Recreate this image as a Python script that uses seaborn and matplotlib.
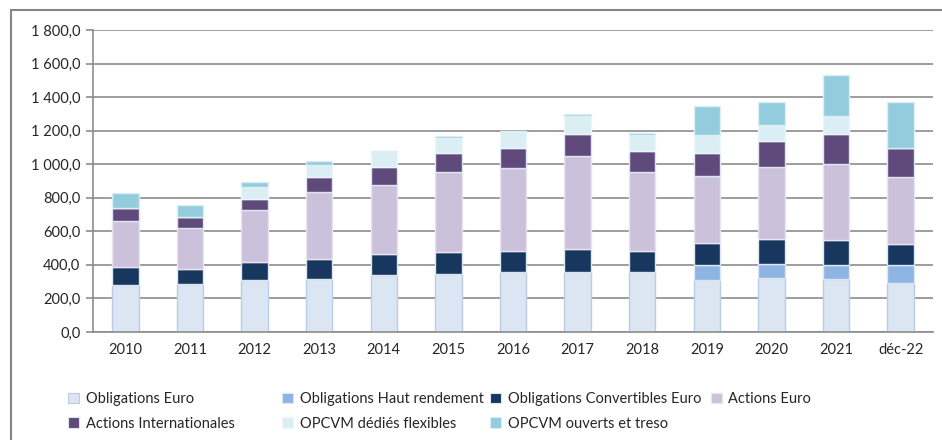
import numpy as np
import pandas as pd
import seaborn as sns
import matplotlib.pyplot as plt
from matplotlib.patches import Rectangle, Patch
from matplotlib.ticker import FuncFormatter, FixedLocator

years = ['2010', '2011', '2012', '2013', '2014', '2015', '2016',
         '2017', '2018', '2019', '2020', '2021', 'déc-22']

oblig_euro = [280, 286, 310, 314, 342, 346, 356, 356, 356, 310, 320, 314, 292]
oblig_hy = [0, 0, 0, 0, 0, 0, 0, 0, 0, 87, 85, 87, 105]
oblig_conv = [109, 91, 109, 123, 123, 133, 127, 137, 127, 133, 147, 145, 127]
actions_euro = [274, 241, 308, 396, 409, 473, 493, 556, 469, 400, 433, 457, 402]
actions_intl = [74, 66, 68, 93, 108, 115, 119, 129, 125, 137, 151, 179, 172]
opcvm_dedies = [0, 0, 71, 71, 89, 91, 95, 109, 99, 109, 100, 105, 0]
opcvm_ouverts = [93, 73, 28, 22, 8, 10, 8, 10, 10, 169, 133, 243, 271]

series = [
    ("Obligations Euro", oblig_euro, "#DCE6F2", "#B9CDE5"),
    ("Obligations Haut rendement", oblig_hy, "#8EB4E3", "#DCE6F2"),
    ("Obligations Convertibles Euro", oblig_conv, "#17375E", "#DCE6F2"),
    ("Actions Euro", actions_euro, "#CCC1DA", "#EAE4F0"),
    ("Actions Internationales", actions_intl, "#604A7B", "#DCE6F2"),
    ("OPCVM dédiés flexibles", opcvm_dedies, "#DBEEF4", "#EDF7FA"),
    ("OPCVM ouverts et treso", opcvm_ouverts, "#93CDDD", "#DBEEF4"),
]

sns.set_theme(style="white")
plt.rcParams['font.family'] = ['Lato', 'DejaVu Sans']
text_col = "#262626"
grid_col = "#8C8C8C"
fs = 10.5

fig = plt.figure(figsize=(9.42, 4.4), dpi=100)
ax = fig.add_axes([93 / 942, 1 - 332 / 440, (933 - 93) / 942, (332 - 30) / 440])

bottom = np.zeros(len(years))
handles = []
for name, vals, color, edge in series:
    df = pd.DataFrame({"annee": years, "valeur": vals})
    sns.barplot(data=df, x="annee", y="valeur", order=years, bottom=bottom.copy(),
                color=color, edgecolor=edge, linewidth=1.0, width=0.41,
                saturation=1, ax=ax, errorbar=None)
    bottom += np.array(vals, dtype=float)
    handles.append(Patch(facecolor=color, edgecolor=edge, linewidth=0.8, label=name))

ax.set_xlim(-0.5, len(years) - 0.5)
ax.set_ylim(0, 1800)
ax.set_yticks(np.arange(0, 1801, 200))
ax.yaxis.set_major_formatter(FuncFormatter(
    lambda v, p: f"{v:,.1f}".replace(",", " ").replace(".", ",")))
ax.yaxis.grid(True, color=grid_col, linewidth=1.2)
ax.set_axisbelow(True)
ax.set_xlabel("")
ax.set_ylabel("")

for s in ["top", "right"]:
    ax.spines[s].set_visible(False)
for s in ["left", "bottom"]:
    ax.spines[s].set_color(grid_col)
    ax.spines[s].set_linewidth(1.2)

ax.xaxis.set_minor_locator(FixedLocator(np.arange(-0.5, len(years), 1.0)))
ax.tick_params(axis="x", which="major", length=0, pad=8, labelsize=fs, colors=text_col)
ax.tick_params(axis="x", which="minor", length=3, width=1.2, color=grid_col, direction="out")
ax.tick_params(axis="y", length=5, width=1.2, color=grid_col, direction="out",
               left=True, pad=4, labelsize=fs, labelcolor=text_col)

# legend laid out in columns like the original (row 1 then row 2)
columns = [(68, [0, 4]), (282, [1, 5]), (490, [2, 6]), (711, [3])]
for x0, idx in columns:
    leg = fig.legend([handles[i] for i in idx], [handles[i].get_label() for i in idx],
                     loc="upper left", bbox_to_anchor=(x0 / 942, 1 - 392 / 440),
                     frameon=False, fontsize=fs, handlelength=0.75, handleheight=0.75,
                     handletextpad=0.45, labelspacing=0.72, borderpad=0,
                     borderaxespad=0, labelcolor=text_col)

fig.patches.append(Rectangle((11 / 942, -0.1), 1.2, 1 - 10 / 440 + 0.1,
                             transform=fig.transFigure, fill=False,
                             edgecolor="#868686", linewidth=1.5))

fig.savefig("out.png", dpi=100)
